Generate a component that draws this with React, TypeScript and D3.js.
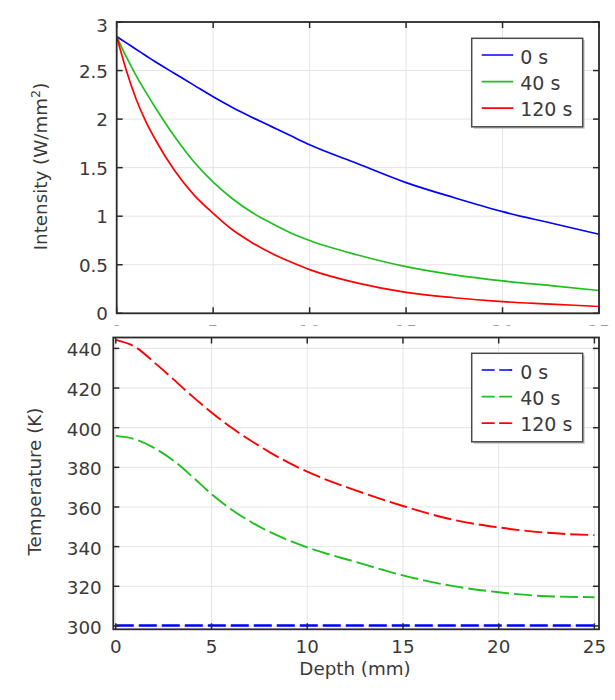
import React from 'react';
import * as d3 from 'd3';

// ---------- data ----------
const depthTop = [0, 0.5, 1, 1.5, 2, 3, 4, 5, 6, 7, 8, 9, 10, 12.5, 15, 17.5, 20, 22.5, 25];
const intensity0s = [2.85, 2.785, 2.72, 2.655, 2.59, 2.47, 2.35, 2.23, 2.12, 2.02, 1.925, 1.83, 1.735, 1.54, 1.346, 1.19, 1.047, 0.93, 0.814];
const intensity40s = [2.85, 2.64, 2.45, 2.28, 2.12, 1.82, 1.56, 1.35, 1.18, 1.04, 0.93, 0.83, 0.75, 0.6, 0.48, 0.395, 0.333, 0.285, 0.235];
const intensity120s = [2.85, 2.5, 2.21, 1.98, 1.79, 1.47, 1.22, 1.03, 0.86, 0.73, 0.62, 0.53, 0.45, 0.31, 0.215, 0.16, 0.12, 0.095, 0.07];

const depthBottom = [0, 1, 2, 3, 4, 5, 6, 7, 8, 9, 10, 12.5, 15, 17.5, 20, 22.5, 25];
const temp0s = [300.2, 300.2, 300.2, 300.2, 300.2, 300.2, 300.2, 300.2, 300.2, 300.2, 300.2, 300.2, 300.2, 300.2, 300.2, 300.2, 300.2];
const temp40s = [395.9, 394.2, 389.8, 383.5, 375.3, 366.5, 359, 352.8, 347.6, 343.3, 339.6, 332.4, 325.5, 320.3, 317, 315, 314.5];
const temp120s = [444.3, 440.8, 433, 424.5, 415.8, 407.7, 400.3, 393.8, 387.8, 382.5, 377.8, 368.5, 360.5, 353.8, 349.7, 347, 345.8];

const seriesLabels = ['0 s', '40 s', '120 s'];
const seriesColors = ['#0000ff', '#1fbf1f', '#ff0000'];

const xTicks = [0, 5, 10, 15, 20, 25];
const yTicksTop = [0, 0.5, 1, 1.5, 2, 2.5, 3];
const yTicksBottom = [300, 320, 340, 360, 380, 400, 420, 440];

const FONT = 'DejaVu Sans, sans-serif';
const FS = 18.3;
const TXT = '#3a3a3a';
const FRAME = '#2a2a2a';
const GRID = '#e4e4e4';

function Legend({ x, y, dashed }: { x: number; y: number; dashed: boolean }) {
  const w = 111;
  const h = 88.5;
  return (
    <g>
      <rect x={x + 2} y={y + 2} width={w} height={h} fill="#c8c8c8" />
      <rect x={x} y={y} width={w} height={h} fill="#fff" stroke="#4a4a4a" strokeWidth={1.5} />
      {seriesLabels.map((lab, i) => (
        <g key={lab}>
          <line
            x1={x + 10}
            x2={x + 41.5}
            y1={y + 16.7 + i * 26.6}
            y2={y + 16.7 + i * 26.6}
            stroke={seriesColors[i]}
            strokeWidth={1.7}
            strokeDasharray={dashed ? '13,4.5' : undefined}
          />
          <text
            x={x + 48.5}
            y={y + 25.8 + i * 26}
            fontFamily={FONT}
            fontSize={19}
            fill={TXT}
          >
            {lab}
          </text>
        </g>
      ))}
    </g>
  );
}

export default function App() {
  // top panel
  const tL = 116.7, tR = 599, tT = 22, tB = 313.3;
  const xTop = d3.scaleLinear().domain([0, 25]).range([tL, tR]);
  const yTop = d3.scaleLinear().domain([0, 3]).range([tB, tT]);
  // bottom panel
  const bL = 113.3, bR = 599, bT = 337.5, bB = 629.3;
  const xBot = d3.scaleLinear().domain([-0.13, 25.24]).range([bL, bR]);
  const yBot = d3.scaleLinear().domain([298.3, 445.5]).range([bB, bT]);

  const lineTop = d3
    .line<[number, number]>()
    .x((d) => xTop(d[0]))
    .y((d) => yTop(d[1]))
    .curve(d3.curveMonotoneX);
  const lineBot = d3
    .line<[number, number]>()
    .x((d) => xBot(d[0]))
    .y((d) => yBot(d[1]))
    .curve(d3.curveMonotoneX);

  const topSeries = [intensity0s, intensity40s, intensity120s].map((vals) =>
    depthTop.map((x, i) => [x, vals[i]] as [number, number])
  );
  const botSeries = [temp0s, temp40s, temp120s].map((vals) =>
    depthBottom.map((x, i) => [x, vals[i]] as [number, number])
  );

  const tick = 6;

  return (
    <div style={{ position: 'absolute', left: 0, top: 0 }}>
      <svg width={615} height={700} style={{ display: 'block', background: '#fff' }}>
        <rect x={0} y={0} width={615} height={700} fill="#fff" />
        {/* ================= TOP PANEL ================= */}
        <g>
          {/* top x tick labels (mostly hidden by lower panel) */}
          {xTicks.map((t) => (
            <text key={'txl' + t} x={xTop(t)} y={337.5} textAnchor="middle" fontFamily={FONT} fontSize={FS} fill={TXT}>
              {t}
            </text>
          ))}
          {/* grid */}
          {xTicks.map((t) => (
            <line key={'tgx' + t} x1={xTop(t)} x2={xTop(t)} y1={tT} y2={tB} stroke={GRID} strokeWidth={1} />
          ))}
          {yTicksTop.map((t) => (
            <line key={'tgy' + t} x1={tL} x2={tR} y1={yTop(t)} y2={yTop(t)} stroke={GRID} strokeWidth={1} />
          ))}
          {/* curves */}
          {topSeries.map((s, i) => (
            <path key={'tc' + i} d={lineTop(s) || ''} fill="none" stroke={seriesColors[i]} strokeWidth={1.7} />
          ))}
          {/* ticks */}
          {xTicks.map((t) => (
            <g key={'ttx' + t}>
              <line x1={xTop(t)} x2={xTop(t)} y1={tT} y2={tT + tick} stroke={FRAME} strokeWidth={1.5} />
              <line x1={xTop(t)} x2={xTop(t)} y1={tB} y2={tB - tick} stroke={FRAME} strokeWidth={1.5} />
            </g>
          ))}
          {yTicksTop.map((t) => (
            <g key={'tty' + t}>
              <line x1={tL} x2={tL + tick} y1={yTop(t)} y2={yTop(t)} stroke={FRAME} strokeWidth={1.5} />
              <line x1={tR} x2={tR - tick} y1={yTop(t)} y2={yTop(t)} stroke={FRAME} strokeWidth={1.5} />
            </g>
          ))}
          <rect x={tL} y={tT} width={tR - tL} height={tB - tT} fill="none" stroke={FRAME} strokeWidth={1.8} />
          {/* y tick labels */}
          {yTicksTop.map((t) => (
            <text
              key={'tyl' + t}
              x={108}
              y={yTop(t) + 7 + (t === 3 ? 2.5 : 0)}
              textAnchor="end"
              fontFamily={FONT}
              fontSize={FS}
              fill={TXT}
            >
              {t}
            </text>
          ))}
          <text transform="translate(47,166.5) rotate(-90)" textAnchor="middle" fontFamily={FONT} fontSize={FS} fill={TXT}>
            Intensity (W/mm
            <tspan fontSize={FS * 0.7} dy={-7.5}>2</tspan>
            <tspan dy={7.5}>)</tspan>
          </text>
          <Legend x={471.7} y={38.3} dashed={false} />
        </g>

        {/* ================= BOTTOM PANEL ================= */}
        <g>
          <rect x={0} y={325.5} width={615} height={376} fill="#fff" />
          {xTicks.map((t) => (
            <line key={'bgx' + t} x1={xBot(t)} x2={xBot(t)} y1={bT} y2={bB} stroke={GRID} strokeWidth={1} />
          ))}
          {yTicksBottom.map((t) => (
            <line key={'bgy' + t} x1={bL} x2={bR} y1={yBot(t)} y2={yBot(t)} stroke={GRID} strokeWidth={1} />
          ))}
          {botSeries.map((s, i) => (
            <path
              key={'bc' + i}
              d={lineBot(s) || ''}
              fill="none"
              stroke={seriesColors[i]}
              strokeWidth={i === 0 ? 2.4 : 1.9}
              strokeDasharray="18,5"
            />
          ))}
          {xTicks.map((t) => (
            <g key={'btx' + t}>
              <line x1={xBot(t)} x2={xBot(t)} y1={bT} y2={bT + tick} stroke={FRAME} strokeWidth={1.5} />
              <line x1={xBot(t)} x2={xBot(t)} y1={bB} y2={bB - tick} stroke={FRAME} strokeWidth={1.5} />
            </g>
          ))}
          {yTicksBottom.map((t) => (
            <g key={'bty' + t}>
              <line x1={bL} x2={bL + tick} y1={yBot(t)} y2={yBot(t)} stroke={FRAME} strokeWidth={1.5} />
              <line x1={bR} x2={bR - tick} y1={yBot(t)} y2={yBot(t)} stroke={FRAME} strokeWidth={1.5} />
            </g>
          ))}
          <rect x={bL} y={bT} width={bR - bL} height={bB - bT} fill="none" stroke={FRAME} strokeWidth={1.8} />
          {yTicksBottom.map((t) => (
            <text
              key={'byl' + t}
              x={101.7}
              y={yBot(t) + 8}
              textAnchor="end"
              fontFamily={FONT}
              fontSize={FS}
              fill={TXT}
            >
              {t}
            </text>
          ))}
          {xTicks.map((t) => (
            <text key={'bxl' + t} x={xBot(t)} y={652.5} textAnchor="middle" fontFamily={FONT} fontSize={FS} fill={TXT}>
              {t}
            </text>
          ))}
          <text x={355} y={675} textAnchor="middle" fontFamily={FONT} fontSize={FS} fill={TXT}>
            Depth (mm)
          </text>
          <text transform="translate(40.5,481.5) rotate(-90)" textAnchor="middle" fontFamily={FONT} fontSize={FS} fill={TXT}>
            Temperature (K)
          </text>
          <Legend x={471.7} y={353.3} dashed={true} />
        </g>
      </svg>
    </div>
  );
}
